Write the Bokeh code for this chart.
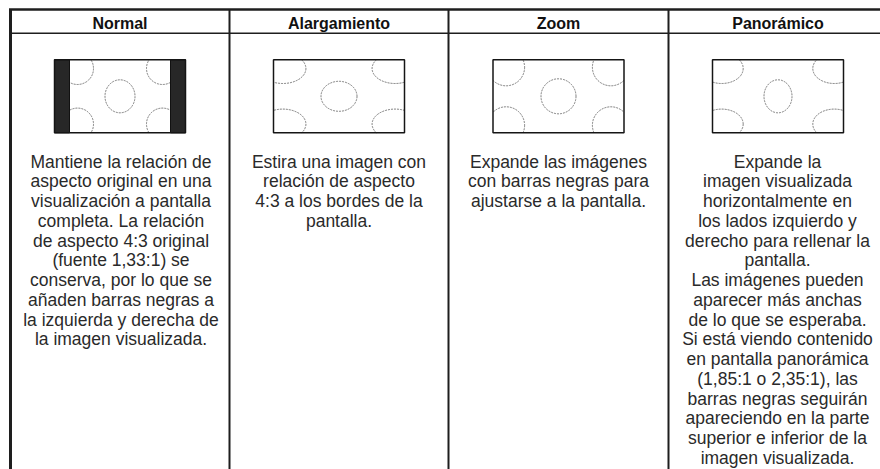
import numpy as np
from bokeh.plotting import figure
from bokeh.models import Range1d, ColumnDataSource
from bokeh.core.properties import value
from bokeh.embed import file_html
from bokeh.resources import INLINE

# ---------------- content ----------------
headers = ["Normal", "Alargamiento", "Zoom", "Panorámico"]

normal_lines = [
    "Mantiene la relación de",
    "aspecto original en una",
    "visualización a pantalla",
    "completa. La relación",
    "de aspecto 4:3 original",
    "(fuente 1,33:1) se",
    "conserva, por lo que se",
    "añaden barras negras a",
    "la izquierda y derecha de",
    "la imagen visualizada.",
]
stretch_lines = [
    "Estira una imagen con",
    "relación de aspecto",
    "4:3 a los bordes de la",
    "pantalla.",
]
zoom_lines = [
    "Expande las imágenes",
    "con barras negras para",
    "ajustarse a la pantalla.",
]
pano_lines = [
    "Expande la",
    "imagen visualizada",
    "horizontalmente en",
    "los lados izquierdo y",
    "derecho para rellenar la",
    "pantalla.",
    "Las imágenes pueden",
    "aparecer más anchas",
    "de lo que se esperaba.",
    "Si está viendo contenido",
    "en pantalla panorámica",
    "(1,85:1 o 2,35:1), las",
    "barras negras seguirán",
    "apareciendo en la parte",
    "superior e inferior de la",
    "imagen visualizada.",
]
descriptions = [normal_lines, stretch_lines, zoom_lines, pano_lines]

# ---------------- layout (page pixel coordinates) ----------------
W, H = 880, 469
col_edges = [10, 229, 448, 668, 887]
top_y = 9.0
head_line_y = 32.7
bottom_y = 480
header_base = 22.8
body_base0 = 161.2
line_step = 19.75
text_centers = [120.5, 338.5, 558.0, 777.0]

thumb_w, thumb_h = 131.0, 73.0
thumb_top = 59.3
# per-mode thumbnail style: side bar width, corner circle offset/radii, centre radii
thumb_style = [
    dict(bar=15.0, cdx=23.0, cdy=8.7, crx=16.0, cry=16.0, mrx=15.0, mry=16.5),
    dict(bar=0.0, cdx=9.4, cdy=8.7, crx=23.0, cry=15.0, mrx=18.0, mry=15.0),
    dict(bar=0.0, cdx=13.1, cdy=7.5, crx=18.5, cry=18.5, mrx=17.5, mry=17.5),
    dict(bar=0.0, cdx=9.2, cdy=8.7, crx=21.5, cry=15.0, mrx=14.0, mry=16.5),
]

p = figure(width=W, height=H, x_range=Range1d(0, W), y_range=Range1d(H, 0),
           output_backend="svg", toolbar_location=None, min_border=0,
           x_axis_type=None, y_axis_type=None)
p.grid.visible = False
p.outline_line_color = None
p.background_fill_color = "white"
p.border_fill_color = "white"

line_col = "#1e1e1e"

# table lines
p.segment(x0=[col_edges[0] - 1.5], y0=[top_y], x1=[col_edges[-1]], y1=[top_y],
          line_color=line_col, line_width=2.5)
p.segment(x0=[col_edges[0]], y0=[head_line_y], x1=[col_edges[-1]], y1=[head_line_y],
          line_color=line_col, line_width=1.5)
p.segment(x0=[col_edges[0]], y0=[top_y], x1=[col_edges[0]], y1=[bottom_y],
          line_color=line_col, line_width=3)
p.segment(x0=col_edges[1:4], y0=[top_y] * 3, x1=col_edges[1:4], y1=[bottom_y] * 3,
          line_color=line_col, line_width=2)


def ellipse_path(cx, cy, rx, ry, xmin, xmax, ymin, ymax, n=240):
    t = np.linspace(0, 2 * np.pi, n)
    x = cx + rx * np.cos(t)
    y = cy + ry * np.sin(t)
    inside = (x >= xmin) & (x <= xmax) & (y >= ymin) & (y <= ymax)
    x = np.where(inside, x, np.nan)
    y = np.where(inside, y, np.nan)
    return list(x) + [np.nan], list(y) + [np.nan]


for i, st in enumerate(thumb_style):
    bx = (col_edges[i] + col_edges[i + 1]) / 2.0
    left, right = bx - thumb_w / 2, bx + thumb_w / 2
    top, bot = thumb_top, thumb_top + thumb_h
    by = (top + bot) / 2
    ileft, iright = left + st["bar"], right - st["bar"]
    xs, ys = [], []
    ex, ey = ellipse_path(bx, by, st["mrx"], st["mry"], ileft, iright, top, bot)
    xs += ex; ys += ey
    for sx in (-1, 1):
        for sy in (-1, 1):
            ccx = (left + st["cdx"]) if sx < 0 else (right - st["cdx"])
            ccy = (top + st["cdy"]) if sy < 0 else (bot - st["cdy"])
            ex, ey = ellipse_path(ccx, ccy, st["crx"], st["cry"], ileft, iright, top, bot)
            xs += ex; ys += ey
    p.line(xs, ys, line_color="#707070", line_width=1, line_dash="2 1")
    if st["bar"] > 0:
        p.quad(left=[left, iright], right=[ileft, right], top=[top, top], bottom=[bot, bot],
               fill_color="#272727", line_color="#111111", line_width=1)
    p.quad(left=[left], right=[right], top=[top], bottom=[bot],
           fill_color=None, line_color="#151515", line_width=1.5)

# headers
hsrc = ColumnDataSource(dict(
    x=[(col_edges[i] + col_edges[i + 1]) / 2.0 for i in range(4)],
    y=[header_base] * 4,
    text=headers))
p.text(x="x", y="y", text="text", source=hsrc, text_align="center",
       text_baseline="alphabetic", text_font=value("Liberation Sans"),
       text_font_style="bold", text_font_size="16px", text_color="#111111")

# body text
bx_, by_, bt_ = [], [], []
for i, lines in enumerate(descriptions):
    for j, line in enumerate(lines):
        bx_.append(text_centers[i])
        by_.append(body_base0 + j * line_step)
        bt_.append(line)
bsrc = ColumnDataSource(dict(x=bx_, y=by_, text=bt_))
p.text(x="x", y="y", text="text", source=bsrc, text_align="center",
       text_baseline="alphabetic", text_font=value("Liberation Sans"),
       text_font_size="17.5px", text_color="#2a2a2a")

open("out.html", "w").write(file_html(p, INLINE))
